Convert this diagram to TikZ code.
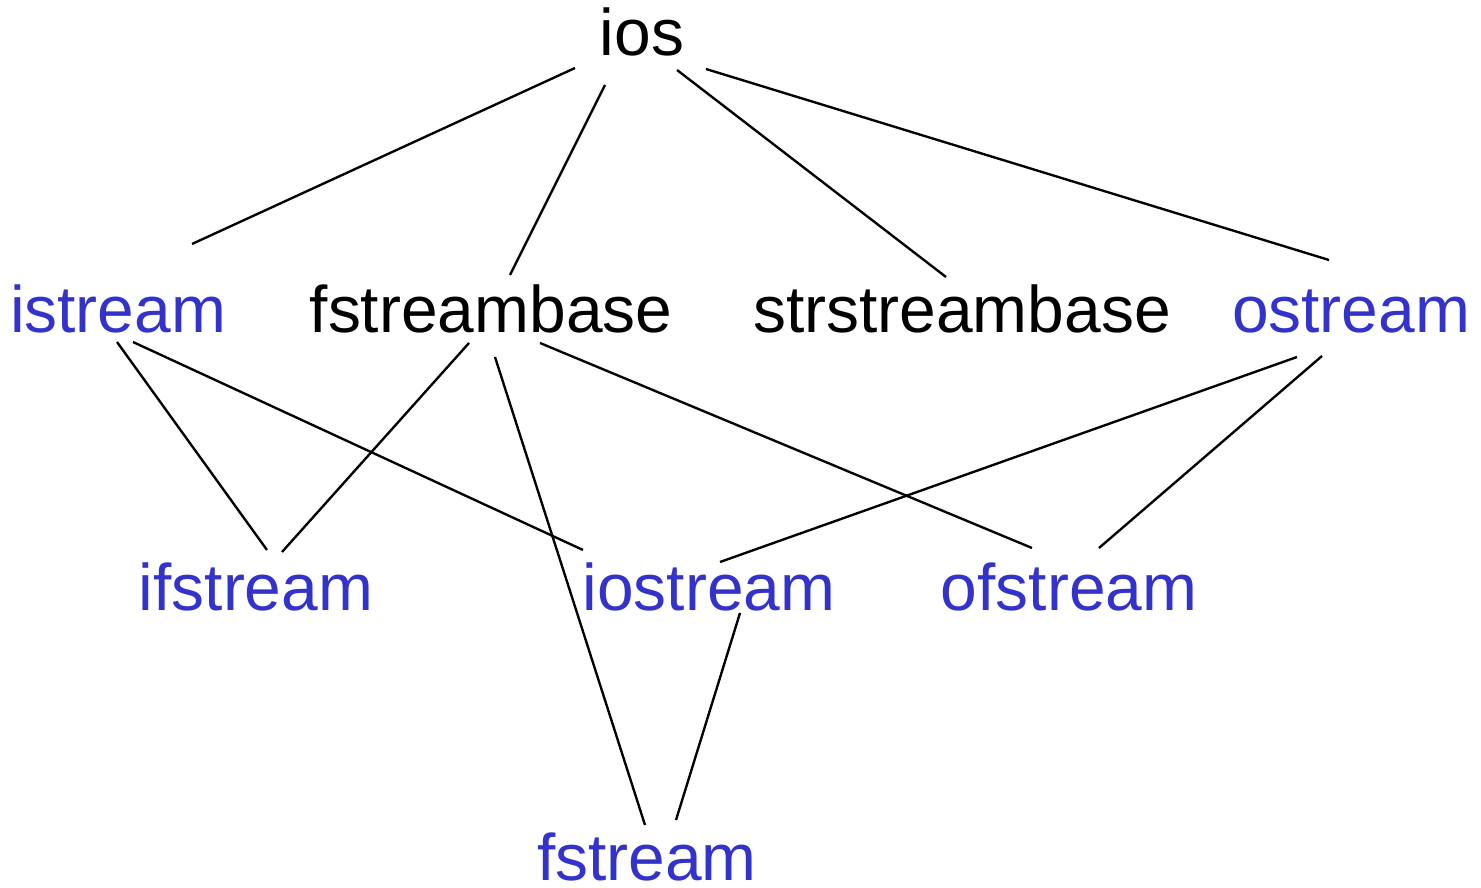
\documentclass[tikz,border=0pt]{standalone}
\usepackage{fontspec}
\setmainfont{Liberation Sans}
\usepackage{xcolor}
\usepackage{tikz}
\usetikzlibrary{positioning, calc}

\definecolor{streamblue}{RGB}{51,51,204}

\begin{document}
\begin{tikzpicture}[x=0.02cm, y=-0.02cm,
    cls/.style={inner sep=0, anchor=base, font=\fontsize{37.5}{44}\selectfont},
    stream/.style={cls, text=streamblue},
    link/.style={line width=1.35pt}]
      \useasboundingbox (0, 0) rectangle (1481, 888);

      \node[cls] (ios) at (642, 56) {ios};

      \node[stream] (istream) at (118, 333) {istream};
      \node[cls] (fsbase) at (491, 333) {fstreambase};
      \node[cls] (strbase) at (962, 333) {strstreambase};
      \node[stream] (ostream) at (1351, 333) {ostream};

      \node[stream] (ifstream) at (256, 610) {ifstream};
      \node[stream] (iostream) at (709, 610) {iostream};
      \node[stream] (ofstream) at (1069, 610) {ofstream};

      \node[stream] (fstream) at (647, 880) {fstream};

      \draw[link] ([shift={(-67, 12)}]ios.base) -- ([shift={(74, -89)}]istream.base);
      \draw[link] ([shift={(-37, 29)}]ios.base) -- ([shift={(19, -58)}]fsbase.base);
      \draw[link] ([shift={(35, 14)}]ios.base) -- ([shift={(-16, -56)}]strbase.base);
      \draw[link] ([shift={(64, 13)}]ios.base) -- ([shift={(-22, -73)}]ostream.base);

      \draw[link] ([shift={(-1, 9)}]istream.base) -- ([shift={(11, -60)}]ifstream.base);
      \draw[link] ([shift={(15, 9)}]istream.base) -- ([shift={(-126, -60)}]iostream.base);
      \draw[link] ([shift={(-22, 10)}]fsbase.base) -- ([shift={(26, -58)}]ifstream.base);
      \draw[link] ([shift={(4, 24)}]fsbase.base) -- ([shift={(-2, -55)}]fstream.base);
      \draw[link] ([shift={(49, 10)}]fsbase.base) -- ([shift={(-37, -62)}]ofstream.base);
      \draw[link] ([shift={(-54, 24)}]ostream.base) -- ([shift={(11, -48)}]iostream.base);
      \draw[link] ([shift={(-29, 23)}]ostream.base) -- ([shift={(30, -62)}]ofstream.base);

      \draw[link] ([shift={(31, 3)}]iostream.base) -- ([shift={(29, -60)}]fstream.base);
    \end{tikzpicture}
\end{document}
